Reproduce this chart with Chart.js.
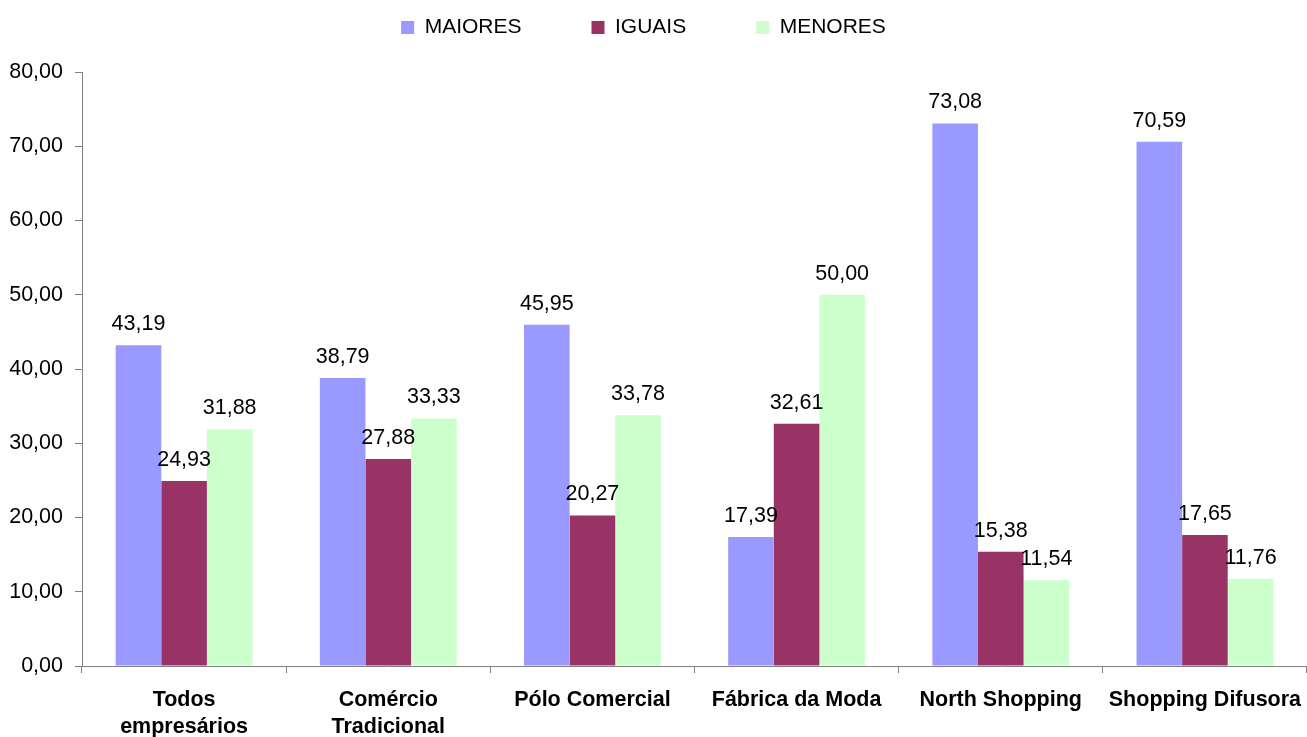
<!DOCTYPE html>
<html>
<head>
<meta charset="utf-8">
<script src="https://cdn.jsdelivr.net/npm/chart.js@4/dist/chart.umd.min.js"></script>
<style>
  html, body { margin: 0; padding: 0; background: #fff; }
  canvas { display: block; }
</style>
</head>
<body>
<canvas id="chart" width="1307" height="737"></canvas>
<script>
const categories = [
  ["Todos", "empresários"],
  ["Comércio", "Tradicional"],
  "Pólo Comercial",
  "Fábrica da Moda",
  "North Shopping",
  "Shopping Difusora",
];
const seriesNames = ["MAIORES", "IGUAIS", "MENORES"];
const maiores = [43.19, 38.79, 45.95, 17.39, 73.08, 70.59];
const iguais = [24.93, 27.88, 20.27, 32.61, 15.38, 17.65];
const menores = [31.88, 33.33, 33.78, 50.0, 11.54, 11.76];
const colors = ["#9999FF", "#993366", "#CCFFCC"];

const FONT = "'Liberation Sans', Arial, sans-serif";
const fmt = (v) => Number(v).toFixed(2).replace(".", ",");

// value labels above each bar, drawn after all bars so they sit on top
const valueLabels = {
  id: "valueLabels",
  afterDatasetsDraw(chart) {
    const ctx = chart.ctx;
    ctx.save();
    ctx.font = "21.5px " + FONT;
    ctx.fillStyle = "#000";
    ctx.textAlign = "center";
    ctx.textBaseline = "middle";
    chart.data.datasets.forEach((ds, i) => {
      chart.getDatasetMeta(i).data.forEach((bar, j) => {
        ctx.fillText(fmt(ds.data[j]), bar.x, bar.y - 21);
      });
    });
    ctx.restore();
  },
};

// fixed legend band height, legend nudged a bit left
const legendBand = {
  id: "legendBand",
  afterInit(chart) {
    const fitValue = chart.legend.fit;
    chart.legend.fit = function fit() {
      fitValue.bind(chart.legend)();
      this.height = 125;
    };
  },
  afterLayout(chart) {
    chart.legend.left -= 10;
    chart.legend.right -= 10;
  },
};

new Chart(document.getElementById("chart"), {
  type: "bar",
  data: {
    labels: categories,
    datasets: [maiores, iguais, menores].map((d, i) => ({
      label: seriesNames[i],
      data: d,
      backgroundColor: colors[i],
      borderWidth: 0,
      categoryPercentage: 0.67,
      barPercentage: 1.0,
    })),
  },
  options: {
    responsive: false,
    animation: false,
    layout: { padding: { top: -53, left: 0, right: 0, bottom: 0 } },
    plugins: {
      tooltip: { enabled: false },
      legend: {
        position: "top",
        labels: {
          boxWidth: 13,
          boxHeight: 13,
          padding: 70,
          color: "#000",
          font: { family: FONT, size: 21 },
        },
      },
    },
    scales: {
      x: {
        grid: {
          drawOnChartArea: false,
          color: "#808080",
          tickLength: 7,
          offset: true,
        },
        border: { color: "#808080", width: 1 },
        ticks: {
          color: "#000",
          padding: 14,
          maxRotation: 0,
          autoSkip: false,
          font: { family: FONT, size: 21.5, weight: "bold", lineHeight: 1.25 },
        },
        afterFit(scale) {
          scale.height = 71;
          scale.paddingLeft = 0;
          scale.paddingRight = 0;
        },
      },
      y: {
        min: 0,
        max: 80,
        grid: {
          drawOnChartArea: false,
          color: "#808080",
          tickLength: 7,
        },
        border: { color: "#808080", width: 1 },
        ticks: {
          stepSize: 10,
          color: "#000",
          padding: 12,
          font: { family: FONT, size: 21.5 },
          callback: (v) => fmt(v),
        },
        afterFit(scale) {
          scale.width = 82;
        },
      },
    },
  },
  plugins: [valueLabels, legendBand],
});
</script>
</body>
</html>
